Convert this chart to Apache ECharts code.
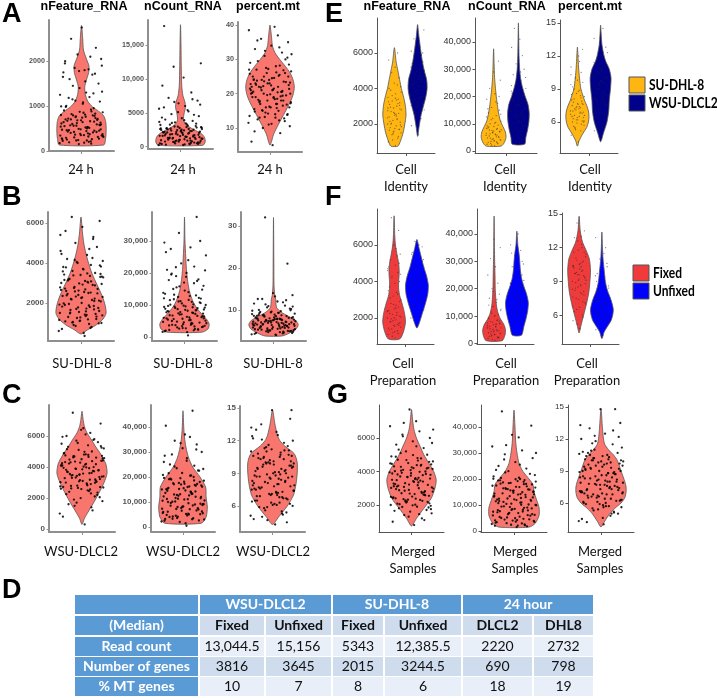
<!DOCTYPE html>
<html>
<head>
<meta charset="utf-8">
<script src="https://cdn.jsdelivr.net/npm/echarts@6/dist/echarts.min.js"></script>
<style>
html,body{margin:0;padding:0;background:#fff;}
#main{width:717px;height:698px;}
</style>
</head>
<body>
<div id="main"></div>
<script>
// ---------------- data ----------------
var METRICS = ['nFeature_RNA', 'nCount_RNA', 'percent.mt'];
var CELL_LINES = ['SU-DHL-8', 'WSU-DLCL2'];
var PREPS = ['Fixed', 'Unfixed'];

// tick values per plot
var TICKS_A1 = [0, 1000, 2000];
var TICKS_A2 = [0, 5000, 10000, 15000];
var TICKS_A3 = [10, 20, 30, 40];
var TICKS_B1 = [2000, 4000, 6000];
var TICKS_B2 = [0, 10000, 20000, 30000];
var TICKS_B3 = [10, 20, 30];
var TICKS_FEAT = [2000, 4000, 6000];
var TICKS_FEAT0 = [0, 2000, 4000, 6000];
var TICKS_COUNT = [0, 10000, 20000, 30000, 40000];
var TICKS_MT = [6, 9, 12, 15];

// violin outlines: [value, relative half width]
var VIO_A1 = [[130,0.9],[250,0.97],[450,1],[650,0.98],[780,0.9],[880,0.7],[980,0.45],[1100,0.26],[1250,0.16],[1420,0.13],[1580,0.2],[1750,0.29],[1900,0.3],[2050,0.2],[2250,0.08],[2500,0.05],[2800,0]];
var VIO_A2 = [[200,0.9],[700,1],[1400,0.97],[2000,0.82],[2500,0.55],[3000,0.32],[3500,0.17],[4000,0.12],[4800,0.14],[5800,0.2],[6600,0.18],[7500,0.1],[9000,0.05],[12000,0.03],[15000,0.02],[18000,0]];
var VIO_A3 = [[5,0],[6,0.06],[8,0.14],[10,0.27],[12,0.42],[14,0.57],[16,0.72],[18,0.86],[20,0.96],[22,1],[24,0.95],[26,0.83],[28,0.63],[30,0.4],[32,0.2],[34,0.1],[36,0.07],[38,0.04],[40,0]];
var VIO_B1 = [[450,0],[650,0.25],[900,0.6],[1200,0.88],[1500,1],[1900,0.96],[2300,0.86],[2700,0.72],[3100,0.57],[3500,0.43],[4000,0.3],[4500,0.19],[5000,0.11],[5500,0.06],[6300,0]];
var VIO_B2 = [[1500,0.7],[2500,0.95],[4000,1],[5500,0.9],[7000,0.72],[9000,0.5],[11000,0.35],[13000,0.25],[15000,0.18],[18000,0.12],[21000,0.08],[25000,0.05],[30000,0.02],[37500,0]];
var VIO_B3 = [[3.8,0.35],[4.5,0.65],[5.5,0.92],[6.5,1],[7.5,0.9],[8.5,0.6],[9.5,0.3],[10.5,0.13],[11.5,0.1],[12.5,0.09],[13.5,0.05],[16,0.02],[20,0.015],[25,0.01],[32,0]];
var VIO_C1 = [[300,0],[700,0.1],[1200,0.28],[1800,0.5],[2400,0.7],[3000,0.88],[3600,1],[4200,0.95],[4800,0.76],[5300,0.55],[5800,0.36],[6200,0.2],[6600,0.1],[7000,0.05],[7600,0]];
var VIO_C2 = [[1500,0.75],[4000,0.95],[8000,1],[12000,0.95],[16000,0.93],[20000,0.7],[24000,0.4],[28000,0.22],[32000,0.12],[36000,0.06],[40000,0.03],[46500,0]];
var VIO_C3 = [[4.3,0],[5,0.25],[6,0.6],[7,0.85],[8,0.95],[9,1],[10,1],[10.8,0.88],[11.5,0.5],[12,0.3],[12.5,0.2],[13.5,0.1],[14.8,0]];
var VIO_E1_SU = [[750,0.3],[1000,0.5],[1500,0.75],[2000,0.9],[2500,1],[3000,0.95],[3500,0.8],[4000,0.6],[4500,0.45],[5000,0.3],[5500,0.15],[6300,0]];
var VIO_E1_WSU = [[1300,0],[1800,0.12],[2500,0.3],[3000,0.5],[3500,0.7],[4000,0.82],[4500,0.78],[5000,0.58],[5500,0.42],[6000,0.3],[6500,0.2],[7000,0.1],[7600,0]];
var VIO_E2_SU = [[1800,0.6],[3000,0.85],[5000,1],[7000,0.95],[9000,0.75],[11000,0.55],[14000,0.4],[17000,0.3],[20000,0.22],[23000,0.15],[27000,0.08],[32000,0.04],[37500,0]];
var VIO_E2_WSU = [[2500,0.5],[5000,0.6],[8000,0.75],[11000,0.85],[14000,0.87],[17000,0.78],[20000,0.55],[23000,0.35],[26000,0.2],[30000,0.1],[35000,0.05],[40000,0.03],[47000,0]];
var VIO_E3_SU = [[3.8,0],[4.3,0.15],[5,0.5],[5.5,0.8],[6,0.95],[6.5,1],[7,0.95],[7.5,0.8],[8,0.6],[8.5,0.45],[9,0.3],[10,0.18],[11,0.1],[12,0.05],[12.8,0]];
var VIO_E3_WSU = [[4.2,0],[5,0.25],[6,0.55],[7,0.7],[8,0.75],[9,0.85],[10,0.9],[10.8,0.75],[11.5,0.45],[12,0.3],[13,0.12],[14,0.05],[14.8,0]];
var VIO_F1_FIX = [[850,0.5],[1300,0.85],[1800,1],[2300,0.9],[2800,0.7],[3200,0.5],[3600,0.4],[4000,0.4],[4500,0.45],[5000,0.4],[5500,0.25],[6000,0.12],[6500,0.06],[7600,0]];
var VIO_F1_UNF = [[1450,0],[1800,0.25],[2300,0.5],[2800,0.75],[3300,0.95],[3800,1],[4300,0.85],[4800,0.6],[5300,0.4],[5800,0.2],[6300,0]];
var VIO_F2_FIX = [[1000,0.7],[3000,0.95],[5000,1],[7000,0.85],[9000,0.55],[11000,0.35],[14000,0.2],[17000,0.14],[20000,0.1],[25000,0.08],[30000,0.05],[35000,0.03],[46500,0]];
var VIO_F2_UNF = [[3000,0.4],[6000,0.6],[9000,0.8],[12000,0.95],[15000,1],[18000,0.85],[21000,0.6],[24000,0.4],[27000,0.3],[30000,0.25],[33000,0.18],[36000,0.08],[41000,0]];
var VIO_F3_FIX = [[4.4,0],[5,0.15],[6,0.4],[7,0.65],[8,0.85],[9,0.95],[10,1],[11,0.9],[11.8,0.6],[12.5,0.3],[13.5,0.1],[14.8,0]];
var VIO_F3_UNF = [[3.9,0],[4.5,0.2],[5,0.5],[5.5,0.8],[6,0.95],[6.5,1],[7,0.9],[7.5,0.75],[8,0.55],[8.5,0.4],[9,0.3],[10,0.2],[11,0.1],[12,0.05],[13.4,0]];
var VIO_G1 = [[750,0],[1200,0.2],[1800,0.5],[2400,0.8],[3000,0.95],[3500,1],[4000,0.9],[4500,0.7],[5000,0.5],[5500,0.35],[6000,0.2],[6500,0.1],[7000,0.05],[7700,0]];
var VIO_G2 = [[1500,0.6],[3000,0.85],[6000,1],[9000,1],[12000,0.9],[15000,0.8],[18000,0.75],[20000,0.6],[23000,0.35],[26000,0.2],[30000,0.12],[34000,0.07],[40000,0.04],[46500,0]];
var VIO_G3 = [[3.75,0],[4.3,0.15],[5,0.35],[5.5,0.55],[6,0.8],[6.5,0.95],[7,1],[7.5,1],[8,0.95],[9,0.8],[10,0.65],[10.5,0.5],[11,0.3],[11.5,0.15],[12,0.1],[13,0.06],[14.8,0]];

// horizontal jitter offsets (fraction of jitter width), a fixed typed list
var JITTER = [0.12,-0.85,0.47,-0.33,0.91,-0.06,0.68,-0.57,0.25,-0.94,0.81,-0.21,0.39,-0.72,0.03,0.59,-0.45,0.96,-0.12,0.33,
  -0.66,0.74,-0.29,0.52,-0.88,0.18,-0.51,0.86,-0.02,0.63,-0.38,0.09,-0.79,0.44,-0.15,0.97,-0.62,0.27,-0.91,0.71,
  -0.25,0.55,-0.69,0.06,0.83,-0.41,0.36,-0.97,0.21,-0.09,0.77,-0.54,0.49,-0.82,0.14,-0.31,0.92,-0.74,0.4,-0.18,
  0.65,-0.47,0.01,-0.89,0.29,0.87,-0.36,0.57,-0.6,0.16,-0.99,0.42,-0.24,0.79,-0.7,0.31,-0.03,0.95,-0.49,0.22,
  0.58,-0.13,0.35,-0.77,0.88,-0.42,0.05,-0.64,0.73,-0.27,0.19,-0.93,0.62,-0.08,0.45,-0.56,0.99,-0.34,0.28,-0.81,
  0.11,-0.67,0.84,-0.19,0.51,-0.87,0.37,-0.04,0.69,-0.48,0.24,-0.96,0.8,-0.23,0.43,-0.71,0.07,-0.58,0.93,-0.39,
  0.17,-0.84,0.61,-0.11,0.32,-0.75,0.89,-0.28,0.54,-0.92,0.08,-0.63,0.76,-0.16,0.47,-0.8,0.26,-0.44,0.98,-0.35];

// values (y) of the jittered cells
var PTS_A1 = [180,220,260,300,340,380,420,460,500,540,580,620,660,700,740,780,820,860,150,200,250,310,360,410,470,520,570,630,680,730,790,850,900,160,240,330,430,530,610,690,770,950,1000,1050,1100,1150,1200,1250,1300,1400,1500,1600,1700,1750,1800,1850,1900,2000,2100,2150,2300,2500,2750,280,390,480,560,650,720,810,
  170,210,230,270,290,320,350,370,400,440,450,490,510,550,590,600,640,670,710,750,760,800,830,870,880,190,310,420,530,640,350,460,570,680,790,260,370,480,590,700,230,340,450,560,920,980,1080,1180,1320,1450,1550,1650,1720,1780,1820,1950,2050,1120,1280,990];
var PTS_A2 = [250,400,550,700,850,1000,1150,1300,1450,1600,1750,1900,2050,2200,2350,2500,2650,2800,2950,3100,300,500,650,800,950,1100,1250,1400,1550,1700,1850,2000,2150,2300,2450,2600,2750,2900,3200,3400,3600,3800,4000,4200,4500,4800,5200,5600,6000,6400,6800,7200,8000,9000,10200,11800,12300,17800,450,900,1350,1800,2250,2700,3300,600,1200,1500,2100,2400,
  220,350,480,620,760,880,1020,1180,1320,1480,1620,1780,1920,2080,2220,2380,2520,2680,2820,2980,330,470,610,740,890,1030,1170,1310,1460,1590,1740,1880,2030,2170,2310,2460,2610,2760,3050,3250,3450,3650,380,820,1240,1670,2090,2550,2880,3500,3900,4300,4700,5100,5400,5800,6200,6600,7000,2600];
var PTS_A3 = [5,6,8.5,10,10.5,11,12,12.5,13,13.5,14,14.5,15,15.5,16,16.5,17,17.5,18,18.5,19,19.5,20,20.5,21,21.5,22,22.5,23,23.5,24,24.5,25,25.5,26,26.5,27,28,29,30,31,32,33,34,35,36,37,38.5,39.5,14.2,16.8,18.2,19.2,20.2,21.2,22.2,23.2,24.2,25.2,27.5,12.8,17.8,19.8,22.8,26.2,28.5,15.2,20.8,23.8,18.8,
  11.5,12.2,13.2,13.8,14.8,15.8,16.2,17.2,17.6,18.4,19.4,19.6,20.4,20.6,21.4,21.8,22.4,22.6,23.4,23.6,24.6,25.8,26.8,27.2,28.2,29.5,31.5,15,17,19,21,23,25,16,18,20,22,24,26,13,14,27,30.5,32.5,33.5,9,11.2,35.5,20,21,19,22,18,23,17,24,16,25,20.5,21.5];
var PTS_B1 = [500,700,800,900,1000,1100,1200,1300,1400,1500,1600,1700,1800,1900,2000,2100,2200,2300,2400,2500,2600,2700,2800,2900,3000,3100,3200,3300,3400,3500,3600,3700,3800,3900,4000,4100,4200,4400,4600,4800,5000,5300,5600,5800,6100,6300,950,1150,1350,1550,1750,1950,2150,2350,2550,2750,2950,3150,3350,1250,1450,1650,2250,2650,3050,3450,1050,1850,2450,350,
  600,750,850,980,1080,1180,1280,1380,1480,1580,1680,1780,1880,1980,2080,2180,2280,2380,2480,2580,2680,2780,2880,2980,3080,3180,3280,3380,3480,3580,3680,3780,3880,4050,4250,4450,4700,1120,1320,1520,1720,1920,2120,2320,2520,2720,2920,3120,3320,1020,1420,1820,2220,2620,3020,3420,3820,4150,5200,5400];
var PTS_B2 = [1500,2000,2500,3000,3500,4000,4500,5000,5500,6000,6500,7000,7500,8000,8500,9000,9500,10000,10500,11000,11500,12000,12500,13000,13500,14000,15000,16000,17000,18000,19000,20000,21000,22000,23000,25500,27500,28000,29500,30000,32500,37500,2200,2700,3200,3700,4200,4700,5200,5700,6200,6700,7200,7700,8200,8700,9200,9700,10200,11200,12200,13200,14500,1800,3800,5800,15500,17500,19500,500,
  1600,2100,2600,3100,3600,4100,4600,5100,5600,6100,6600,7100,7600,8100,8600,9100,9600,10100,10600,11100,11600,12100,2300,2800,3300,3800,4300,4800,5300,5800,6300,6800,7300,7800,8300,8800,9300,9800,10800,11800,12800,13800,14800,15800,16800,17800,18800,19800,20800,21800,24000,26500,2400,3400,4400,5400,6400,7400,8400,9400];
var PTS_B3 = [4,4.3,4.6,4.9,5.2,5.5,5.8,6.1,6.4,6.7,7,7.3,7.6,7.9,8.2,8.5,8.8,9.1,9.4,9.7,10,10.3,10.6,11,11.5,12,12.6,13.5,14,21,32,4.1,4.5,4.8,5.1,5.4,5.7,6,6.3,6.6,6.9,7.2,7.5,7.8,8.1,8.4,8.7,9,9.3,9.6,9.9,5.3,6.2,6.8,7.1,7.4,7.7,6.5,5.9,8,5,6.6,7.6,8.6,4.7,10.8,11.3,12.3,9.5,7.9,
  4.2,4.4,4.7,5,5.3,5.6,5.9,6.2,6.5,6.8,7.1,7.4,7.7,8,8.3,8.6,8.9,9.2,4.9,5.2,5.5,5.8,6.1,6.4,6.7,7,7.3,7.6,7.9,8.2,8.5,8.8,4.5,5.1,5.7,6.3,6.9,7.5,8.1,8.7,9.3,9.8,10.2,10.9,11.8,12.6,13.2,6,6.6,7.2,7.8,5.4,6.2,7,7.8,8.6,4.8,5.6,6.4,7.2];
var PTS_C1 = [300,800,1200,1500,1800,2000,2200,2400,2500,2600,2700,2800,2900,3000,3100,3200,3300,3400,3500,3600,3700,3800,3900,4000,4100,4200,4300,4400,4500,4600,4700,4800,4900,5000,5100,5200,5300,5400,5500,5600,5700,5800,6000,6500,6800,7500,2550,2750,2950,3150,3350,3550,3750,3950,4150,4350,4550,4750,2300,2650,3050,3450,3850,4250,4650,5250,1900,2100,1600,6100,
  1000,1400,1700,2050,2250,2450,2580,2680,2780,2880,2980,3080,3180,3280,3380,3480,3580,3680,3780,3880,3980,4080,4180,4280,4380,4480,4580,4680,4780,4880,4980,5150,5350,5550,5750,5950,6200,6400,2350,2620,2820,3020,3220,3420,3620,3820,4020,4220,4420,4620,4820,2720,3120,3520,3920,4320,4720,3320,3720,4120];
var PTS_C2 = [1500,2500,3500,4500,5500,6500,7500,8500,9500,10500,11500,12500,13500,14500,15500,16500,17500,18500,19500,20500,21500,22500,23500,24500,26000,27500,29000,30000,31500,33000,34500,37000,40500,46500,2000,3000,4000,5000,6000,7000,8000,9000,10000,11000,12000,13000,14000,15000,16000,17000,18000,19000,20000,3200,5200,7200,9200,11200,13200,15200,17200,4200,8200,12200,16200,6200,10200,14200,25000,500,
  2200,3100,4100,5100,6100,7100,8100,9100,10100,11100,12100,13100,14100,15100,16100,17100,18100,19100,2600,3600,4600,5600,6600,7600,8600,9600,10600,11600,12600,13600,14600,15600,16600,17600,18600,19600,20600,21600,22600,3300,5300,7300,9300,11300,13300,15300,17300,19300,23200,24200,26500,28500,31000,33500,36000,4800,8800,12800,16800,20800];
var PTS_C3 = [4.3,4.8,5.2,5.6,6,6.3,6.6,6.9,7.2,7.5,7.8,8.1,8.4,8.7,9,9.3,9.6,9.9,10.2,10.5,10.8,11.1,11.4,11.8,12.2,12.8,13.5,14.8,14.8,5.4,5.8,6.2,6.5,6.8,7.1,7.4,7.7,8,8.3,8.6,8.9,9.2,9.5,9.8,10.1,10.4,10.7,11,7,8.5,9.7,10.3,6.7,7.6,8.8,10,12,13,9.4,11.6,4.5,5,6.1,7.9,9.1,10.6,11.3,8.2,5.9,7.3,
  5.1,5.5,5.9,6.2,6.5,6.8,7.1,7.4,7.7,8,8.3,8.6,8.9,9.2,9.5,9.8,10.1,10.4,10.7,11,6.1,6.4,6.7,7,7.3,7.6,7.9,8.2,8.5,8.8,9.1,9.4,9.7,10,10.3,10.6,10.9,11.2,11.5,12.1,12.5,13.2,14,4.7,5.3,6.9,7.8,8.7,9.6,10.5,7.2,8.1,9,9.9,6.3,7.5,8.7,9.9,11.1,12.4];
var PTS_E1_SU = [800,1000,1200,1400,1500,1600,1700,1800,1900,2000,2100,2200,2300,2400,2500,2600,2700,2800,2900,3000,3100,3200,3300,3400,3500,3700,3900,4100,4300,4600,4900,5200,5600,6000,1550,1850,2150,2450,2750,3050,
  1100,1300,1650,1750,1950,2050,2250,2350,2550,2650,2850,2950,3150,3250,3450,3600,3800,4000,4200,1450,1700,2000,2600,2900,3350];
var PTS_E1_WSU = [1400,1900,2300,2600,2800,3000,3150,3300,3450,3600,3750,3900,4050,4200,4350,4500,4650,4800,4950,5100,5300,5500,5700,5900,6100,6400,6800,7300,3200,3550,3850,4150,4450,4750,2900,3350,4000,4600,5200,6000,
  2500,2700,2950,3100,3250,3400,3500,3650,3800,3950,4100,4250,4400,4550,4700,4850,5000,5400,5800,3700,3900,4300,4500,3050,4900];
var PTS_E2_SU = [2000,2500,3000,3500,4000,4500,5000,5500,6000,6500,7000,7500,8000,8500,9000,9500,10000,11000,12000,13000,14000,15000,16000,17500,19000,21000,23000,26000,29000,33000,2800,3800,4800,5800,6800,7800,8800,10500,12500,20000,
  2200,2700,3200,3700,4200,4700,5200,5700,6200,6700,7200,7700,8200,9200,10200,11500,13500,15500,3300,4300,5300,6300,7300,8300,18000];
var PTS_E2_WSU = [3000,5000,7000,8500,9500,10500,11500,12500,13500,14500,15500,16500,17500,18500,19500,20500,21500,23000,24500,26000,28000,30000,32000,35000,38000,41000,45000,9000,11000,13000,15000,17000,19000,12000,14000,16000,18000,6000,22000,4000,
  8000,9200,10200,11200,12200,13200,14200,15200,16200,17200,18200,19200,20200,21200,22500,25000,27000,7500,10800,12800,14800,16800,18800,24000,29000];
var PTS_E3_SU = [4.2,4.8,5.2,5.5,5.7,5.9,6.1,6.3,6.5,6.7,6.9,7.1,7.3,7.5,7.7,7.9,8.1,8.3,8.6,8.9,9.2,9.6,10,10.5,11,12,5.6,6,6.4,6.8,7.2,7.6,8,8.4,6.2,6.6,7,7.4,9.4,12.6,
  5.3,5.8,6,6.2,6.4,6.6,6.8,7,7.2,7.4,7.6,7.8,8.2,8.5,8.8,5.4,6.1,6.5,6.9,7.3,7.7,9,9.8,10.3,11.5];
var PTS_E3_WSU = [4.5,5.2,5.8,6.3,6.7,7.1,7.5,7.9,8.3,8.7,9.1,9.5,9.9,10.3,10.7,11.1,11.6,12.3,13.2,14.5,6.5,6.9,7.3,7.7,8.1,8.5,8.9,9.3,9.7,10.1,10.5,10.9,7,8,9,10,8.6,9.6,11.4,12.8,
  6,6.6,7.2,7.8,8.4,9,9.6,10.2,10.8,6.8,7.4,8,8.6,9.2,9.8,10.4,7.6,8.2,8.8,9.4,10,11.8,12.1,13.6,5.5];
var PTS_F1_FIX = [900,1100,1300,1400,1500,1600,1700,1800,1900,2000,2100,2200,2300,2400,2500,2600,2800,3000,3200,3400,3700,4000,4300,4500,4700,4900,5200,5500,6000,6800,7500,1250,1450,1650,1850,2050,2250,2700,4600,5000,
  1000,1150,1350,1550,1750,1950,2150,2350,2550,2750,2900,3100,3300,3500,3900,4200,4400,4800,5400,1200,1600,1800,2000,2400,5800];
var PTS_F1_UNF = [1600,2000,2300,2600,2800,2950,3100,3250,3400,3550,3700,3850,4000,4150,4300,4450,4600,4800,5000,5300,5600,5900,6200,3000,3200,3450,3650,3900,4100,4350,2700,3350,3750,4250,4700,2450,3150,3600,4050,5100,
  2200,2500,2750,2900,3050,3300,3500,3700,3800,3950,4100,4200,4400,4550,4650,4900,5200,5500,2850,3400,3550,3850,4250,4500,6000];
var PTS_F2_FIX = [1200,1800,2400,3000,3600,4200,4800,5400,6000,6600,7200,7800,8400,9000,9800,10600,11500,12500,13500,15000,16500,18000,20000,22000,25000,28000,31000,35000,38000,2100,2700,3300,3900,4500,5100,5700,6300,6900,7500,8100,
  1500,2000,2600,3200,3800,4400,5000,5600,6200,6800,7400,8000,8600,9400,10200,11000,12000,14000,16000,19000,2300,3500,4700,5900,7100];
var PTS_F2_UNF = [3500,5500,7000,8500,9500,10500,11500,12500,13500,14500,15500,16500,17500,18500,19500,20500,21500,23000,24500,26000,28000,30000,32000,34000,36000,40000,10000,12000,14000,16000,18000,11000,13000,15000,17000,19000,6500,8000,22000,25000,
  7500,9000,10800,11800,12800,13800,14800,15800,16800,17800,18800,19800,20800,22000,23500,27000,29000,33000,11200,13200,15200,17200,19200,9800,21000];
var PTS_F3_FIX = [4.8,5.5,6,6.5,7,7.4,7.8,8.2,8.6,9,9.3,9.6,9.9,10.2,10.5,10.8,11.1,11.4,11.8,12.3,12.9,13.5,14.2,7.2,7.6,8,8.4,8.8,9.2,9.5,9.8,10.1,10.4,10.7,8.5,9.1,9.7,10.3,6.8,11.6,
  5.2,5.8,6.3,6.7,7.1,7.5,7.9,8.3,8.7,9.1,9.4,9.7,10,10.3,10.6,10.9,11.2,11.6,12,12.6,8.1,8.9,9.6,10.4,13];
var PTS_F3_UNF = [4.2,4.7,5,5.3,5.5,5.7,5.9,6.1,6.3,6.5,6.7,6.9,7.1,7.3,7.5,7.8,8.1,8.4,8.8,9.2,9.7,10.3,11,12,12.9,5.4,5.8,6.2,6.6,7,7.4,6,6.4,6.8,7.2,5.6,7.7,8.6,9.5,10.6,
  4.9,5.2,5.4,5.6,5.8,6,6.2,6.4,6.6,6.8,7,7.2,7.4,7.6,7.9,8.2,8.6,9,9.4,10,5.5,6.1,6.7,7.3,11.5];
var PTS_G1 = [800,1000,1200,1400,1500,1600,1700,1800,1900,2000,2100,2200,2300,2400,2500,2600,2700,2800,2900,3000,3100,3200,3300,3400,3500,3600,3700,3800,3900,4000,4100,4200,4300,4400,4500,4600,4700,4800,4900,5000,5200,5400,5600,5800,6000,6200,6400,6700,7000,7700,1850,2050,2250,2450,2650,2850,3050,3250,3450,3650,3850,4050,4250,4450,4650,1950,2350,2750,3150,3550,3950,4350,2150,2550,2950,3350,3750,4150,5100,5500,
  1100,1300,1450,1650,1750,1880,1980,2080,2180,2280,2380,2480,2580,2680,2780,2880,2980,3080,3180,3280,3380,3480,3580,3680,3780,3880,3980,4080,4180,4280,4380,4480,4580,4680,4780,4880,4980,5300,5700,6100,2020,2420,2820,3220,3620,4020,4420,2220,2620,3020,3420,3820,4220,2320,2720,3120,3520,3920,6500,6900];
var PTS_G2 = [1500,2000,2500,3000,3500,4000,4500,5000,5500,6000,6500,7000,7500,8000,8500,9000,9500,10000,10500,11000,11500,12000,12500,13000,13500,14000,14500,15000,15500,16000,16500,17000,17500,18000,18500,19000,19500,20000,21000,22000,23000,24000,25000,26500,28000,29500,31000,32500,36000,37000,40500,46000,2200,3200,4200,5200,6200,7200,8200,9200,10200,11200,12200,13200,14200,15200,16200,17200,18200,19200,2700,4700,6700,8700,10700,12700,14700,16700,18700,20500,
  1800,2400,2900,3400,3900,4400,4900,5400,5900,6400,6900,7400,7900,8400,8900,9400,9900,10400,10900,11400,11900,12400,12900,13400,13900,14400,14900,15400,15900,16400,16900,17400,17900,18400,18900,19400,19900,20400,21500,22500,2100,4100,6100,8100,10100,12100,14100,16100,18100,20100,3600,7600,11600,15600,19600,23500,25500,27500,30000,33000];
var PTS_G3 = [4,4.5,5,5.3,5.6,5.9,6.2,6.5,6.8,7.1,7.4,7.7,8,8.3,8.6,8.9,9.2,9.5,9.8,10.1,10.4,10.7,11,11.5,12,12.5,13,13.5,14.8,14.8,5.5,5.8,6.1,6.4,6.7,7,7.3,7.6,7.9,8.2,8.5,8.8,9.1,9.4,9.7,10,10.3,10.6,6,6.6,7.2,7.8,8.4,9,9.6,10.2,6.3,6.9,7.5,8.1,8.7,9.3,9.9,7,8,9,10,5.2,6.7,7.7,4.3,4.8,11.8,12.2,9.2,8.8,7.3,6.9,10.5,5.7,
  5.1,5.4,5.7,6,6.3,6.6,6.9,7.2,7.5,7.8,8.1,8.4,8.7,9,9.3,9.6,9.9,10.2,10.5,10.8,5.6,5.9,6.2,6.5,6.8,7.1,7.4,7.7,8,8.3,8.6,8.9,9.2,9.5,9.8,10.1,10.4,10.7,11.2,11.6,6.4,7,7.6,8.2,8.8,9.4,10,12.3,12.8,13.3,4.6,4.2,5,6.1,7.3,8.5,9.7,10.9,7.9,6.8];

// table D
var TABLE_GROUPS = ['WSU-DLCL2', 'SU-DHL-8', '24 hour'];
var TABLE_COLS = ['Fixed', 'Unfixed', 'Fixed', 'Unfixed', 'DLCL2', 'DHL8'];
var TABLE_ROWS = ['Read count', 'Number of genes', '% MT genes'];
var READ_COUNT = ['13,044.5', '15,156', '5343', '12,385.5', '2220', '2732'];
var N_GENES = ['3816', '3645', '2015', '3244.5', '690', '798'];
var PCT_MT = ['10', '7', '8', '6', '18', '19'];

// ---------------- layout / style ----------------
var SALMON = '#F8766D', YELLOW = '#FFB612', NAVY = '#00008B', RED = '#EF3B3B', BLUE = '#0000FF';
var STY = {
  a: {axis: '#8f8f8f', w: 2, label: '#555', fs: 7.2, fw: 'bold'},
  bc: {axis: '#8f8f8f', w: 2, label: '#555', fs: 8, fw: 'bold'},
  e: {axis: '#555', w: 1, label: '#333', fs: 9, fw: 'normal'},
  g: {axis: '#555', w: 1, label: '#333', fs: 8, fw: 'normal'}
};
function single(prof, pts) { return [{c: 0, prof: prof, pts: pts, color: SALMON, name: 'all'}]; }
function pair(p1, s1, c1, n1, p2, s2, c2, n2) {
  return [{c: -0.4, prof: p1, pts: s1, color: c1, name: n1}, {c: 0.4, prof: p2, pts: s2, color: c2, name: n2}];
}
var PLOTS = [
  {rect: [49, 20, 65, 131], y: [-4, 2920], ticks: TICKS_A1, st: 'a', groups: single(VIO_A1, PTS_A1)},
  {rect: [148, 20, 65, 129], y: [-340, 18700], ticks: TICKS_A2, st: 'a', groups: single(VIO_A2, PTS_A2)},
  {rect: [238, 22, 64, 130], y: [3, 40.9], ticks: TICKS_A3, st: 'a', groups: single(VIO_A3, PTS_A3)},
  {rect: [48, 212, 66, 129], y: [100, 6550], ticks: TICKS_B1, st: 'bc', groups: single(VIO_B1, PTS_B1)},
  {rect: [152, 212, 65, 129], y: [-1250, 39060], ticks: TICKS_B2, st: 'bc', groups: single(VIO_B2, PTS_B2)},
  {rect: [241, 212, 65, 129], y: [2.6, 33.3], ticks: TICKS_B3, st: 'bc', groups: single(VIO_B3, PTS_B3)},
  {rect: [49, 405, 66, 127], y: [-190, 8000], ticks: TICKS_FEAT0, st: 'bc', groups: single(VIO_C1, PTS_C1)},
  {rect: [151, 405, 64, 127], y: [-2000, 48800], ticks: TICKS_COUNT, st: 'bc', groups: single(VIO_C2, PTS_C2)},
  {rect: [240, 406, 65, 126], y: [3.61, 15.18], ticks: TICKS_MT, st: 'bc', groups: single(VIO_C3, PTS_C3)},
  {rect: [377, 18, 58, 135], y: [366, 7972], ticks: TICKS_FEAT, st: 'e', groups: pair(VIO_E1_SU, PTS_E1_SU, YELLOW, CELL_LINES[0], VIO_E1_WSU, PTS_E1_WSU, NAVY, CELL_LINES[1])},
  {rect: [475, 18, 62, 135], y: [-730, 48800], ticks: TICKS_COUNT, st: 'e', groups: pair(VIO_E2_SU, PTS_E2_SU, YELLOW, CELL_LINES[0], VIO_E2_WSU, PTS_E2_WSU, NAVY, CELL_LINES[1])},
  {rect: [560, 20, 58, 133], y: [3.18, 15.27], ticks: TICKS_MT, st: 'e', groups: pair(VIO_E3_SU, PTS_E3_SU, YELLOW, CELL_LINES[0], VIO_E3_WSU, PTS_E3_WSU, NAVY, CELL_LINES[1])},
  {rect: [377, 209, 57, 135], y: [575, 7973], ticks: TICKS_FEAT, st: 'e', groups: pair(VIO_F1_FIX, PTS_F1_FIX, RED, PREPS[0], VIO_F1_UNF, PTS_F1_UNF, BLUE, PREPS[1])},
  {rect: [477, 209, 57, 135], y: [-200, 49090], ticks: TICKS_COUNT, st: 'e', groups: pair(VIO_F2_FIX, PTS_F2_FIX, RED, PREPS[0], VIO_F2_UNF, PTS_F2_UNF, BLUE, PREPS[1])},
  {rect: [562, 213, 57, 131], y: [3.42, 15.09], ticks: TICKS_MT, st: 'e', groups: pair(VIO_F3_FIX, PTS_F3_FIX, RED, PREPS[0], VIO_F3_UNF, PTS_F3_UNF, BLUE, PREPS[1])},
  {rect: [379, 405, 65, 127], y: [388, 7970], ticks: TICKS_FEAT, st: 'g', groups: single(VIO_G1, PTS_G1)},
  {rect: [481, 405, 66, 127], y: [-385, 48460], ticks: TICKS_COUNT, st: 'g', groups: single(VIO_G2, PTS_G2)},
  {rect: [568, 405, 66, 127], y: [3.28, 15.19], ticks: TICKS_MT, st: 'g', groups: single(VIO_G3, PTS_G3)}
];

function fmtTick(v) {
  return v >= 10000 ? String(v).replace(/\B(?=(\d{3})+(?!\d))/g, ',') : String(v);
}

function txt(x, y, s, size, weight, family, align, color, sx) {
  return {
    type: 'text', x: x, y: y, scaleX: sx || 1, silent: true, z: 10,
    style: {text: s, fontSize: size, fontWeight: weight || 'normal', fontFamily: family,
      fill: color || '#000', align: align || 'center', verticalAlign: 'middle'}
  };
}

var option = {animation: false, grid: [], xAxis: [], yAxis: [], series: [], graphic: []};

PLOTS.forEach(function (p, i) {
  var st = STY[p.st];
  var two = p.groups.length > 1;
  var hw = two ? 0.4 : 0.76;     // violin max half width (axis units)
  var jw = two ? 0.25 : 0.68;    // jitter half width (axis units)
  option.grid.push({left: p.rect[0], top: p.rect[1], width: p.rect[2], height: p.rect[3], outerBoundsMode: 'none'});
  option.xAxis.push({
    gridIndex: i, type: 'value', min: -1, max: 1,
    axisLine: {show: true, onZero: false, lineStyle: {color: st.axis, width: st.w}},
    axisTick: {show: true, customValues: [0], length: 3, lineStyle: {color: st.axis, width: 1}},
    axisLabel: {show: false}, splitLine: {show: false}
  });
  option.yAxis.push({
    gridIndex: i, type: 'value', min: p.y[0], max: p.y[1],
    axisLine: {show: true, onZero: false, lineStyle: {color: st.axis, width: st.w}},
    axisTick: {show: true, customValues: p.ticks, length: 2.5, lineStyle: {color: st.axis, width: 1}},
    axisLabel: {customValues: p.ticks, formatter: fmtTick, fontSize: st.fs, color: st.label,
      fontWeight: st.fw, fontFamily: 'Liberation Sans', margin: 4},
    splitLine: {show: false}
  });
  p.groups.forEach(function (g) {
    var prof = g.prof;
    option.series.push({
      type: 'custom', name: g.name, xAxisIndex: i, yAxisIndex: i, silent: true, z: 2,
      itemStyle: {color: g.color},
      data: [[g.c, prof[0][0]]],
      renderItem: function (params, api) {
        var right = [], left = [];
        prof.forEach(function (q) {
          right.push(api.coord([g.c + q[1] * hw, q[0]]));
          if (q[1] > 0) left.unshift(api.coord([g.c - q[1] * hw, q[0]]));
        });
        return {
          type: 'polygon', shape: {points: right.concat(left), smooth: 0.25},
          style: {fill: g.color, stroke: '#555', lineWidth: 0.8}
        };
      }
    });
    option.series.push({
      type: 'scatter', xAxisIndex: i, yAxisIndex: i, silent: true, z: 3,
      symbolSize: two ? 1.3 : 2.3,
      itemStyle: {color: two ? '#222' : '#000', opacity: two ? 0.55 : 0.85},
      data: g.pts.map(function (v, k) { return [g.c + JITTER[k % JITTER.length] * jw, v]; })
    });
  });
});

// panel letters
var G = option.graphic;
[['A', 2, 15], ['B', 2, 198], ['C', 2, 396], ['D', 2, 591], ['E', 325, 15], ['F', 325, 198], ['G', 327, 396]].forEach(function (l) {
  G.push(txt(l[1], l[2], l[0], 27, 'bold', 'Liberation Sans', 'left', '#000'));
});
// metric titles
[84, 183, 268].forEach(function (x, k) { G.push(txt(x, 7, METRICS[k], 12.5, 'bold', 'Liberation Sans')); });
[407, 507, 590].forEach(function (x, k) { G.push(txt(x, 7, METRICS[k], 12.5, 'bold', 'Liberation Sans')); });
// x labels
var XL = 'Lato', XS = 13;
[81, 183, 270].forEach(function (x) { G.push(txt(x, 170, '24 h', XS, 'normal', XL, 'center', '#111')); });
[82, 183, 273].forEach(function (x) { G.push(txt(x, 364, CELL_LINES[0], XS, 'normal', XL, 'center', '#111')); });
[81, 183, 273].forEach(function (x) { G.push(txt(x, 552, CELL_LINES[1], XS, 'normal', XL, 'center', '#111')); });
[406, 505, 590].forEach(function (x) {
  G.push(txt(x, 170, 'Cell', XS, 'normal', XL, 'center', '#111'));
  G.push(txt(x, 187, 'Identity', XS, 'normal', XL, 'center', '#111'));
});
[403, 506, 587].forEach(function (x) {
  G.push(txt(x, 364, 'Cell', XS, 'normal', XL, 'center', '#111'));
  G.push(txt(x, 381, 'Preparation', XS, 'normal', XL, 'center', '#111'));
});
[413, 515, 600].forEach(function (x) {
  G.push(txt(x, 552, 'Merged', XS, 'normal', XL, 'center', '#111'));
  G.push(txt(x, 569, 'Samples', XS, 'normal', XL, 'center', '#111'));
});

// legends
function legend(x, y, names, colors) {
  names.forEach(function (n, k) {
    G.push({type: 'rect', x: x, y: y + k * 18, shape: {width: 16, height: 16}, silent: true,
      style: {fill: colors[k], stroke: '#555', lineWidth: 1}});
    G.push(txt(x + 20, y + k * 18 + 8, n, 15, 'bold', 'Lato', 'left', '#000', 0.8));
  });
}
legend(629, 77, CELL_LINES, [YELLOW, NAVY]);
legend(633, 265, PREPS, [RED, BLUE]);

// table D
var COL_X = [75, 200, 266, 333, 385, 463, 534, 595];
var ROW_Y = [595, 616, 637, 657, 677];
var RH = 19, TB = '#5B9BD5', TD = '#CFDCEE', TL = '#E9EFF8';
function cell(x0, x1, y, fill) {
  G.push({type: 'rect', x: x0, y: y, shape: {width: x1 - x0 - 2, height: RH}, silent: true, style: {fill: fill}});
}
cell(COL_X[0], COL_X[1], ROW_Y[0], TB);
TABLE_GROUPS.forEach(function (gname, k) {
  var a = COL_X[1 + 2 * k], b = COL_X[3 + 2 * k];
  cell(a, b, ROW_Y[0], TB);
  G.push(txt((a + b - 2) / 2, ROW_Y[0] + RH / 2, gname, 14, 'bold', 'Lato', 'center', '#fff'));
});
var BODY = [READ_COUNT, N_GENES, PCT_MT];
var rowLabels = ['(Median)'].concat(TABLE_ROWS);
rowLabels.forEach(function (lab, r) {
  var y = ROW_Y[r + 1];
  cell(COL_X[0], COL_X[1], y, TB);
  G.push(txt((COL_X[0] + COL_X[1] - 2) / 2, y + RH / 2, lab, 14, 'bold', 'Lato', 'center', '#fff'));
  var vals = r === 0 ? TABLE_COLS : BODY[r - 1];
  vals.forEach(function (v, c) {
    var a = COL_X[c + 1], b = COL_X[c + 2];
    cell(a, b, y, r % 2 === 0 ? TD : TL);
    G.push(txt((a + b - 2) / 2, y + RH / 2, v, 14, r === 0 ? 'bold' : 'normal', 'Lato', 'center', '#111'));
  });
});

var chart = echarts.init(document.getElementById('main'));
chart.setOption(option);
</script>
</body>
</html>
